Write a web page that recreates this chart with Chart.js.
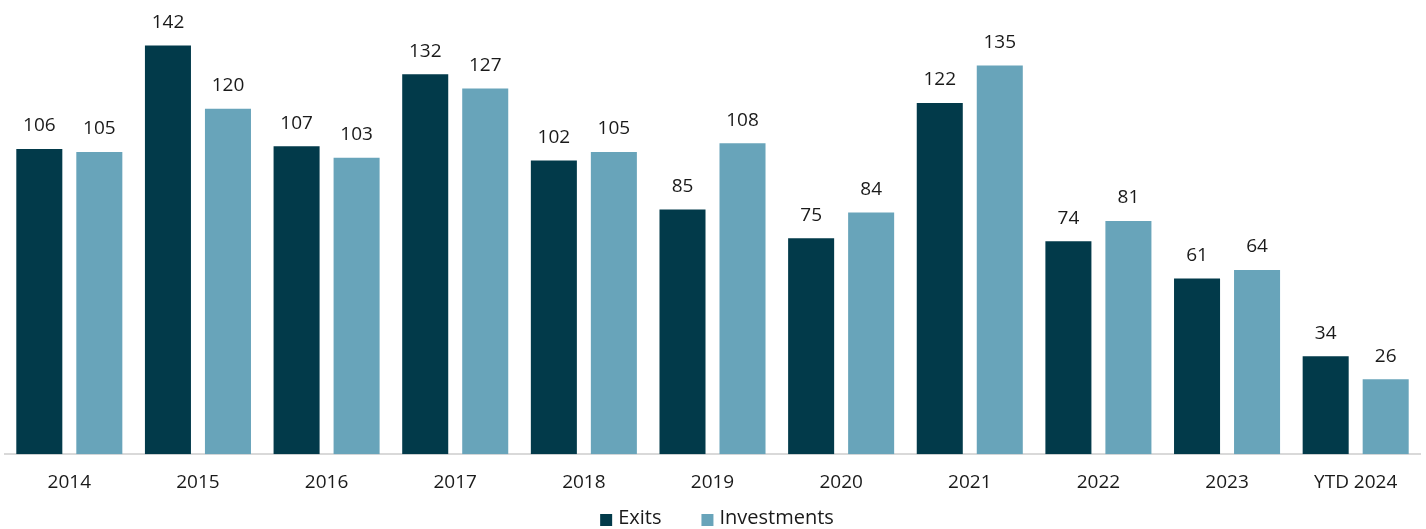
<!DOCTYPE html>
<html>
<head>
<meta charset="utf-8">
<script src="https://cdn.jsdelivr.net/npm/chart.js@4.4.1/dist/chart.umd.min.js"></script>
<style>
  html, body { margin: 0; padding: 0; background: #ffffff; overflow: hidden; }
  #wrap { width: 1426px; height: 529px; position: relative; }
</style>
</head>
<body>
<div id="wrap"><canvas id="chart"></canvas></div>
<script>
const categories = ['2014', '2015', '2016', '2017', '2018', '2019', '2020', '2021', '2022', '2023', 'YTD 2024'];
const exits = [106, 142, 107, 132, 102, 85, 75, 122, 74, 61, 34];
const investments = [105, 120, 103, 127, 105, 108, 84, 135, 81, 64, 26];

const FONT = '"Open Sans", Lato, sans-serif';
const TEXT = '#1a1a1a';

// Writes each bar's value just above it
const valueLabels = {
  id: 'valueLabels',
  afterDatasetsDraw(chart) {
    const ctx = chart.ctx;
    ctx.save();
    ctx.fillStyle = TEXT;
    ctx.font = '19px ' + FONT;
    ctx.textAlign = 'center';
    ctx.textBaseline = 'middle';
    chart.data.datasets.forEach((ds, i) => {
      chart.getDatasetMeta(i).data.forEach((bar, j) => {
        ctx.fillText(String(ds.data[j]), bar.x, bar.y - 23);
      });
    });
    ctx.restore();
  }
};

// Legend row under the axis labels: square swatch + series name, centred
const bottomLegend = {
  id: 'bottomLegend',
  afterDraw(chart) {
    const ctx = chart.ctx;
    const box = 12, textGap = 6, itemGap = 40;
    const y = chart.height - 11;
    ctx.save();
    ctx.font = '20px ' + FONT;
    ctx.textBaseline = 'middle';
    ctx.textAlign = 'left';
    const items = chart.data.datasets.map(ds => ({
      label: ds.label,
      color: ds.backgroundColor,
      w: box + textGap + ctx.measureText(ds.label).width
    }));
    const total = items.reduce((s, it) => s + it.w, 0) + itemGap * (items.length - 1);
    let x = chart.width / 2 - total / 2 + 4;
    items.forEach(it => {
      ctx.fillStyle = it.color;
      ctx.fillRect(x, y - 4, box, box);
      ctx.fillStyle = TEXT;
      ctx.fillText(it.label, x + box + textGap, y);
      x += it.w + itemGap;
    });
    ctx.restore();
  }
};

new Chart(document.getElementById('chart'), {
  type: 'bar',
  data: {
    labels: categories,
    datasets: [
      { label: 'Exits', data: exits, backgroundColor: '#023a4a' },
      { label: 'Investments', data: investments, backgroundColor: '#68a4ba' }
    ]
  },
  options: {
    responsive: true,
    maintainAspectRatio: false,
    animation: false,
    categoryPercentage: 0.933,
    barPercentage: 0.767,
    layout: { padding: { top: 8, left: 5, right: 6, bottom: 26 } },
    plugins: {
      legend: { display: false },
      tooltip: { enabled: false }
    },
    scales: {
      x: {
        grid: { display: false },
        border: { display: true, color: '#d9d9d9', width: 2 },
        ticks: { color: TEXT, font: { family: FONT, size: 19 }, padding: 9 }
      },
      y: {
        display: false,
        min: 0,
        max: 155
      }
    }
  },
  plugins: [valueLabels, bottomLegend]
});
</script>
</body>
</html>
